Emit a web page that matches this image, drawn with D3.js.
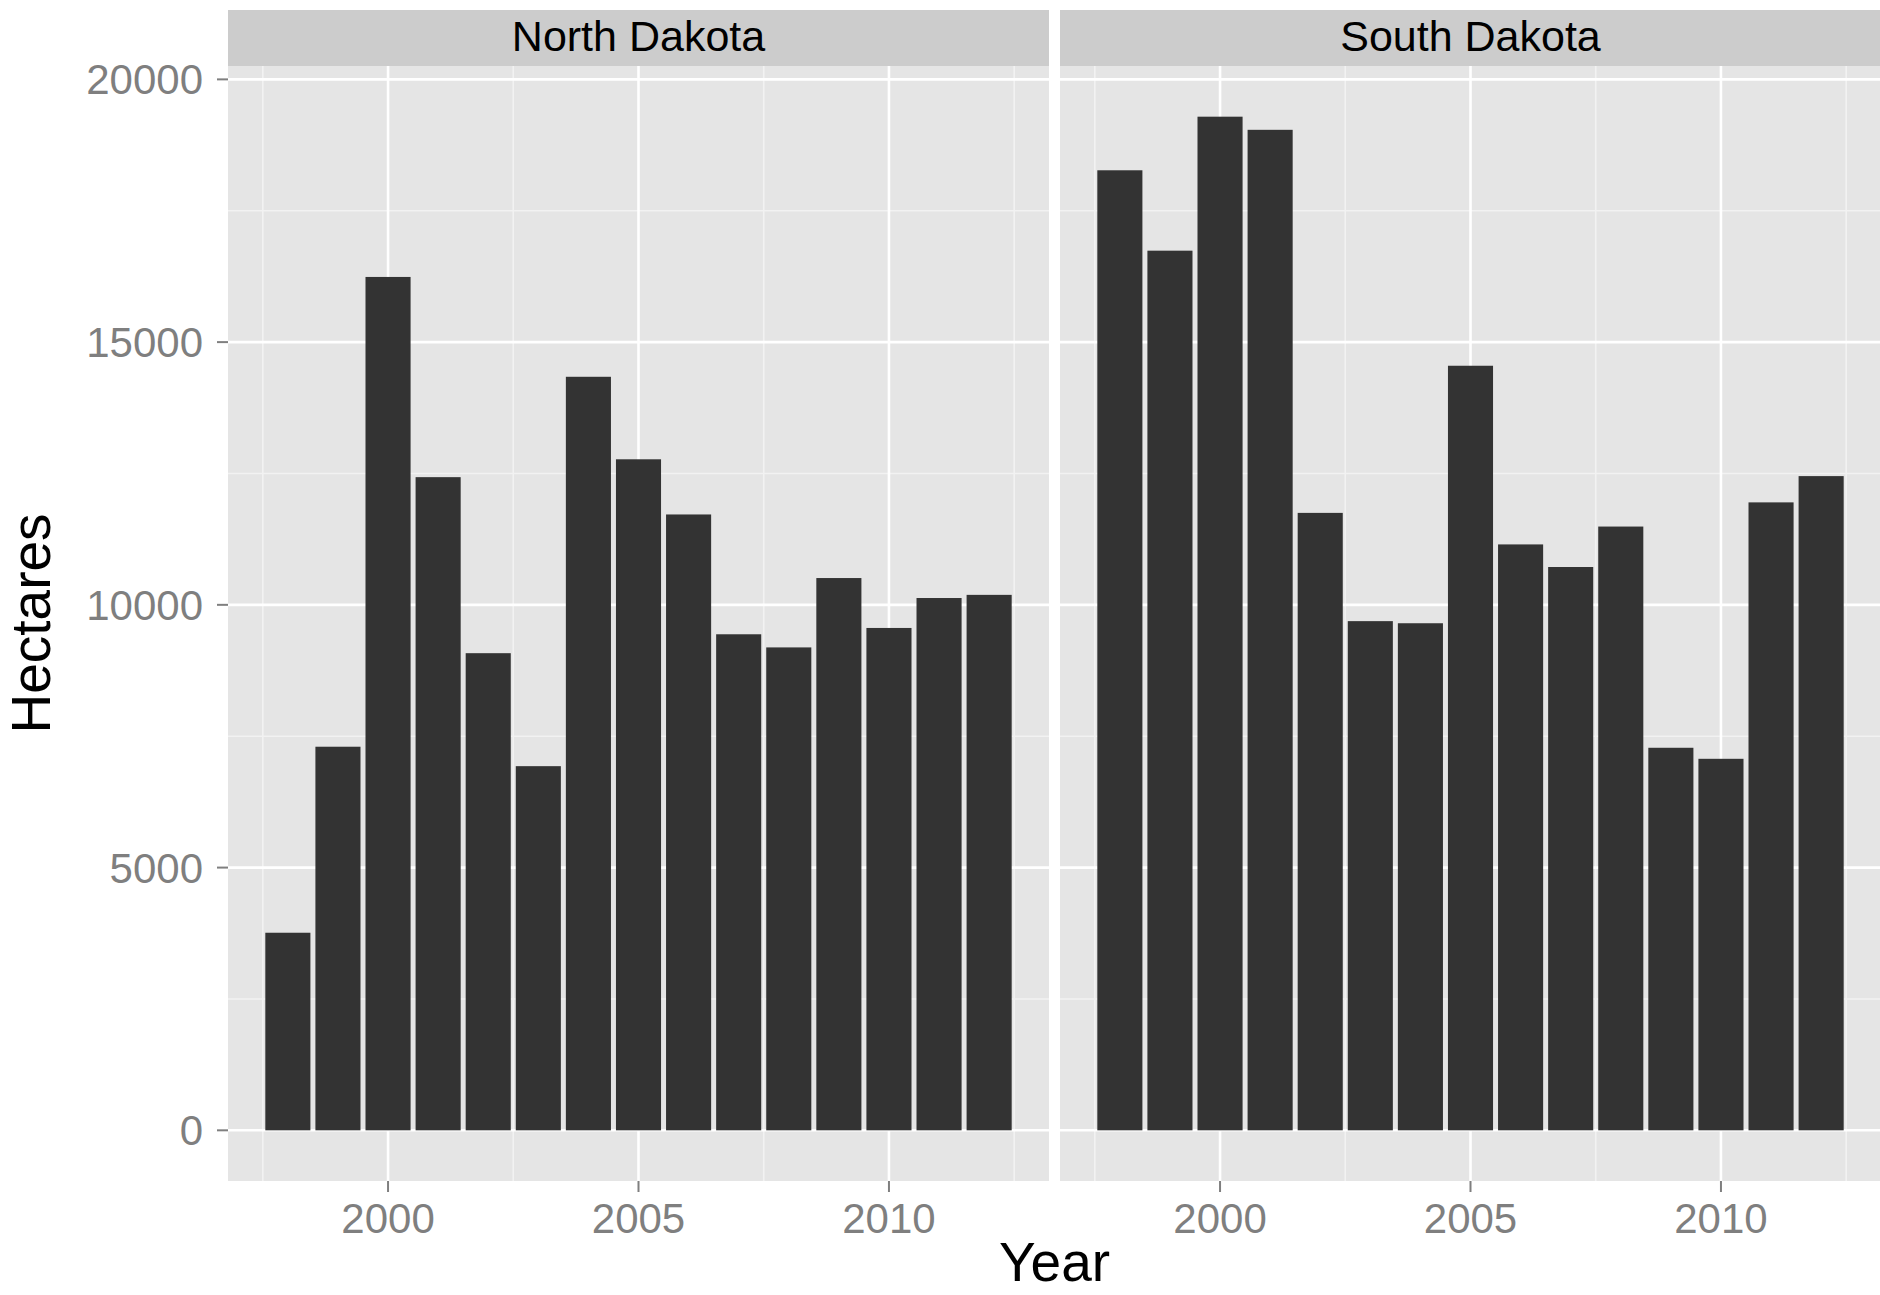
<!DOCTYPE html>
<html>
<head>
<meta charset="utf-8">
<script src="https://cdn.jsdelivr.net/npm/d3@7"></script>
<style>
	body { margin: 0; background: #fff; }
	svg { display: block; }
</style>
</head>
<body>
<div class="chart"></div>
<script>
// Values (hectares per year).
var years = [1998, 1999, 2000, 2001, 2002, 2003, 2004, 2005, 2006, 2007, 2008, 2009, 2010, 2011, 2012];
var northDakota = [3760, 7300, 16240, 12430, 9080, 6930, 14340, 12770, 11720, 9440, 9190, 10510, 9560, 10130, 10190];
var southDakota = [18270, 16740, 19290, 19040, 11750, 9690, 9650, 14550, 11150, 10720, 11490, 7280, 7070, 11950, 12450];
var panelNames = ['North Dakota', 'South Dakota'];
var yTicks = [0, 5000, 10000, 15000, 20000];
var yMinorTicks = [2500, 7500, 12500, 17500];
var xTicks = [2000, 2005, 2010];
var xMinorTicks = [1997.5, 2002.5, 2007.5, 2012.5];

var W = 1880, H = 1295,
	panelBg = '#e5e5e5',
	stripBg = '#cccccc',
	barColor = '#333333',
	tickColor = '#7f7f7f',
	minorColor = '#f2f2f2',
	fontFamily = '"Liberation Sans", Arial, Helvetica, sans-serif';

var panelTop = 66, panelBottom = 1181, stripTop = 10,
	panelWidth = 821, panelLefts = [228, 1060];

var barWidth = 0.9;
var xMin = d3.min(years) - barWidth / 2, xMax = d3.max(years) + barWidth / 2;
var xPad = (xMax - xMin) * 0.05;
var yMax = d3.max(northDakota.concat(southDakota));
var y = d3.scaleLinear()
	.domain([-yMax * 0.05, yMax * 1.05])
	.range([panelBottom, panelTop]);

var svg = d3.select('.chart').append('svg')
	.attr('width', W)
	.attr('height', H)
	.attr('font-family', fontFamily);

var series = [northDakota, southDakota];

series.forEach(function(values, p) {
	var left = panelLefts[p];
	var x = d3.scaleLinear()
		.domain([xMin - xPad, xMax + xPad])
		.range([left, left + panelWidth]);
	var g = svg.append('g');

	// Panel background and grid.
	g.append('rect')
		.attr('x', left).attr('y', panelTop)
		.attr('width', panelWidth).attr('height', panelBottom - panelTop)
		.attr('fill', panelBg);
	yMinorTicks.forEach(function(v) {
		g.append('line')
			.attr('x1', left).attr('x2', left + panelWidth)
			.attr('y1', y(v)).attr('y2', y(v))
			.attr('stroke', minorColor).attr('stroke-width', 1.6);
	});
	xMinorTicks.forEach(function(v) {
		g.append('line')
			.attr('x1', x(v)).attr('x2', x(v))
			.attr('y1', panelTop).attr('y2', panelBottom)
			.attr('stroke', minorColor).attr('stroke-width', 1.6);
	});
	yTicks.forEach(function(v) {
		g.append('line')
			.attr('x1', left).attr('x2', left + panelWidth)
			.attr('y1', y(v)).attr('y2', y(v))
			.attr('stroke', '#fff').attr('stroke-width', 2.6);
	});
	xTicks.forEach(function(v) {
		g.append('line')
			.attr('x1', x(v)).attr('x2', x(v))
			.attr('y1', panelTop).attr('y2', panelBottom)
			.attr('stroke', '#fff').attr('stroke-width', 2.6);
	});

	// Bars.
	g.selectAll('rect.bar')
		.data(values)
		.enter().append('rect')
		.attr('class', 'bar')
		.attr('x', function(d, i) { return x(years[i] - barWidth / 2); })
		.attr('width', function(d, i) { return x(years[i] + barWidth / 2) - x(years[i] - barWidth / 2); })
		.attr('y', function(d) { return y(d); })
		.attr('height', function(d) { return y(0) - y(d); })
		.attr('fill', barColor);

	// Facet strip.
	g.append('rect')
		.attr('x', left).attr('y', stripTop)
		.attr('width', panelWidth).attr('height', panelTop - stripTop)
		.attr('fill', stripBg);
	g.append('text')
		.attr('x', left + panelWidth / 2)
		.attr('y', 51)
		.attr('text-anchor', 'middle')
		.attr('font-size', '43px')
		.attr('fill', '#000')
		.text(panelNames[p]);

	// X axis ticks and labels.
	xTicks.forEach(function(v) {
		g.append('line')
			.attr('x1', x(v)).attr('x2', x(v))
			.attr('y1', panelBottom).attr('y2', panelBottom + 11)
			.attr('stroke', tickColor).attr('stroke-width', 2);
		g.append('text')
			.attr('x', x(v))
			.attr('y', 1233)
			.attr('text-anchor', 'middle')
			.attr('font-size', '42px')
			.attr('fill', tickColor)
			.text(v);
	});

	// Y axis only on the first panel.
	if (p === 0) {
		yTicks.forEach(function(v) {
			g.append('line')
				.attr('x1', left - 11).attr('x2', left)
				.attr('y1', y(v)).attr('y2', y(v))
				.attr('stroke', tickColor).attr('stroke-width', 2);
			g.append('text')
				.attr('x', left - 25)
				.attr('y', y(v))
				.attr('dy', '0.36em')
				.attr('text-anchor', 'end')
				.attr('font-size', '42px')
				.attr('fill', tickColor)
				.text(v);
		});
	}
});

// Axis titles.
svg.append('text')
	.attr('x', (panelLefts[0] + panelLefts[1] + panelWidth) / 2)
	.attr('y', 1281)
	.attr('text-anchor', 'middle')
	.attr('font-size', '55px')
	.attr('fill', '#000')
	.text('Year');
svg.append('text')
	.attr('transform', 'translate(50,' + (panelTop + panelBottom) / 2 + ') rotate(-90)')
	.attr('text-anchor', 'middle')
	.attr('font-size', '55px')
	.attr('fill', '#000')
	.text('Hectares');
</script>
</body>
</html>
